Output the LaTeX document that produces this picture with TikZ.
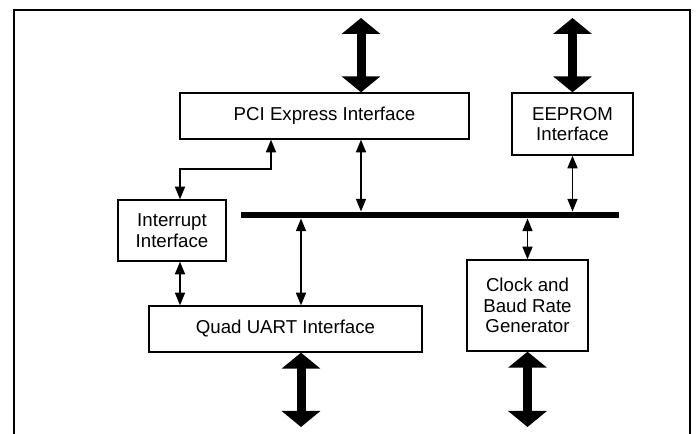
\documentclass[tikz,border=0pt]{standalone}
\usepackage{fontspec}
\setmainfont{Liberation Sans}
\usetikzlibrary{arrows.meta}

\tikzset{every picture/.style={line width=0.75pt}}
\tikzset{
  block/.style={draw, line width=1pt, fill=white, inner sep=0pt, align=center,
    font=\fontsize{14}{15.4}\selectfont},
  link/.style={line width=1.2pt, {Triangle[width=7.5pt,length=9.5pt]}-{Triangle[width=7.5pt,length=9.5pt]}},
  portarrow/.style={line width=6.75pt, {Triangle[width=28.5pt,length=12pt]}-{Triangle[width=28.5pt,length=12pt]}},
  busbar/.style={fill=black, inner sep=0pt, minimum width=283.5pt, minimum height=4.5pt}
}

\begin{document}
\begin{tikzpicture}[x=0.75pt,y=0.75pt,yscale=-1,xscale=1]
    \useasboundingbox (0,0) rectangle (696,434);
    
    %Shape: Frame (open at the bottom)
    \draw [line width=1.5pt] (14,434) -- (14,10) -- (690,10) -- (690,434) ;
    
    %Shape: Rectangle [pci]
    \node [block, minimum width=216.75pt, minimum height=34.5pt] (pci) at (324.5,116) {PCI Express Interface};
    %Shape: Rectangle [eeprom]
    \node [block, minimum width=90.75pt, minimum height=46.5pt] (eeprom) at (572.5,124) {EEPROM\\Interface};
    %Shape: Rectangle [intr]
    \node [block, minimum width=81pt, minimum height=45.75pt] (intr) at (172,230.5) {Interrupt\\Interface};
    %Shape: Rectangle [quad]
    \node [block, minimum width=204.75pt, minimum height=34.5pt] (quad) at (285.5,329) {Quad UART Interface};
    %Shape: Rectangle [clock]
    \node [block, minimum width=90.75pt, minimum height=68.25pt] (clock) at (527.5,305.5) {Clock and\\Baud Rate\\Generator};
    
    %Shape: Internal bus
    \node [busbar] (bus) at (430,215) {};
    
    % external ports
    \coordinate (pciio) at (361,18);
    \coordinate (eepio) at (572.5,18);
    \coordinate (uartio) at (301,427);
    \coordinate (clkio) at (527.5,427);
    % bend of the interrupt line
    \coordinate (bend) at (271,169);
    \coordinate (irqx) at (180,169);
    
    %Big arrows
    \draw [portarrow] (pciio) -- (pciio |- pci.north) ;
    \draw [portarrow] (eepio) -- (eeprom.north) ;
    \draw [portarrow] (uartio |- quad.south) -- (uartio) ;
    \draw [portarrow] (clock.south) -- (clkio) ;
    
    %Straight Lines
    \draw [link] (pci.south -| pciio) -- (bus.north -| pciio) ;
    \draw [link] (eeprom.south) -- (eeprom.south |- bus.north) ;
    \draw [link] (clock.north |- bus.south) -- (clock.north) ;
    \draw [link] (uartio |- bus.south) -- (uartio |- quad.north) ;
    \draw [link] (irqx |- intr.south) -- (irqx |- quad.north) ;
    \draw [link] (pci.south -| bend) -- (bend) -- (irqx) -- (irqx |- intr.north) ;
    
\end{tikzpicture}
\end{document}
